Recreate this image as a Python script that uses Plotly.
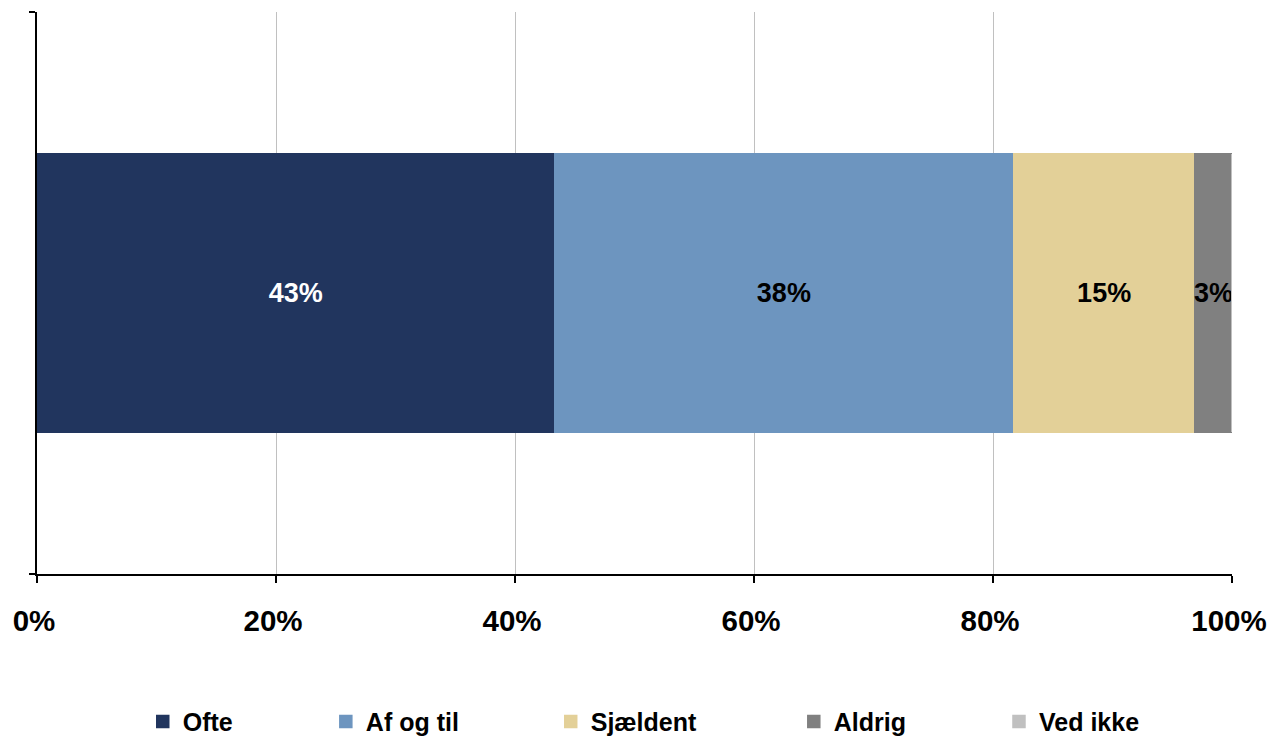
import plotly.graph_objects as go

categories = [""]
series_names = ["Ofte", "Af og til", "Sjældent", "Aldrig", "Ved ikke"]
series_values = [43.3, 38.4, 15.2, 3.1, 0.0]
series_colors = ["#21355E", "#6D95BF", "#E3D098", "#808080", "#C0C0C0"]
text_colors = ["white", "black", "black", "black", "black"]
tick_vals = [0, 20, 40, 60, 80, 100]
tick_labels = ["0%", "20%", "40%", "60%", "80%", "100%"]

FONT = "Arial, Liberation Sans, sans-serif"

# left edges (paper coords) of each trace's own legend
legend_x = [0.0885, 0.2417, 0.4299, 0.6333, 0.8050]

fig = go.Figure()
for i, (name, val, col, tcol) in enumerate(zip(series_names, series_values, series_colors, text_colors)):
    lg = "legend" if i == 0 else f"legend{i+1}"
    fig.add_trace(go.Bar(
        y=[0], x=[val], name=name, orientation="h",
        marker=dict(color=col, line=dict(width=1.5, color=col)),
        width=0.495,
        text=[f"{round(val)}%" if val > 0 else ""],
        textposition="inside", insidetextanchor="middle",
        textangle=0,
        constraintext="none",
        textfont=dict(family=FONT, size=27, color=tcol, weight="bold"),
        legend=lg,
        hoverinfo="name+x",
    ))

fig.update_layout(
    barmode="stack",
    width=1267, height=730,
    margin=dict(l=29, r=43, t=4, b=164, autoexpand=False),
    plot_bgcolor="white", paper_bgcolor="white",
    showlegend=True,
    xaxis=dict(
        range=[0, 100], tickvals=tick_vals, ticktext=tick_labels,
        showgrid=True, gridcolor="#C0C0C0", gridwidth=1,
        showline=True, linecolor="black", linewidth=1.5,
        ticks="outside", ticklen=7, tickwidth=1.5, tickcolor="black",
        tickfont=dict(family=FONT, size=29.5, color="black", weight="bold"),
        ticklabelstandoff=13, ticklabelshift=-3,
        zeroline=False, fixedrange=True, automargin=False,
    ),
    yaxis=dict(
        range=[-0.5, 0.5], tickvals=[-0.5, 0.5], showticklabels=False,
        showgrid=False, zeroline=False,
        showline=True, linecolor="black", linewidth=1.5,
        ticks="outside", ticklen=6, tickwidth=1.5, tickcolor="black",
        fixedrange=True, automargin=False,
    ),
)

for i in range(len(series_names)):
    key = "legend" if i == 0 else f"legend{i+1}"
    fig.update_layout({key: dict(
        x=legend_x[i], xanchor="left", y=-0.263, yanchor="middle",
        orientation="h", bgcolor="rgba(0,0,0,0)", borderwidth=0,
        font=dict(family=FONT, size=25, color="black", weight="bold"),
        itemclick=False, itemdoubleclick=False,
    )})

fig.write_html("out.html")
